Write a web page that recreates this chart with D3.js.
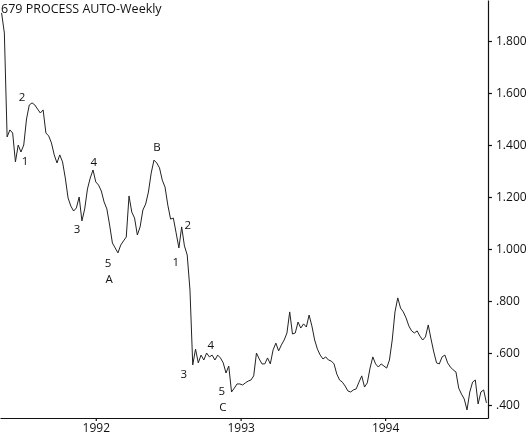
<!DOCTYPE html>
<html>
<head>
<meta charset="utf-8">
<script src="https://cdn.jsdelivr.net/npm/d3@7"></script>
<style>
  body { margin: 0; background: #fff; }
  svg { will-change: transform; }
  svg text { font-family: "Open Sans", sans-serif; fill: #111; }
</style>
</head>
<body>
<div id="chart"></div>
<script>
let title = "679 PROCESS AUTO-Weekly";

// first weekly close, one value per week after that
let startDate = "1991-05-08";

let closes = [
  1.908, 1.831, 1.431, 1.458, 1.446, 1.335, 1.400, 1.373, 1.400, 1.500,
  1.554, 1.562, 1.554, 1.538, 1.523, 1.535, 1.446, 1.435, 1.408, 1.362,
  1.331, 1.362, 1.335, 1.273, 1.196, 1.165, 1.146, 1.158, 1.200, 1.108,
  1.154, 1.231, 1.273, 1.304, 1.258, 1.246, 1.223, 1.181, 1.154, 1.092,
  1.023, 1.004, 0.985, 1.015, 1.031, 1.046, 1.204, 1.142, 1.119, 1.054,
  1.085, 1.150, 1.173, 1.219, 1.292, 1.342, 1.331, 1.312, 1.265, 1.238,
  1.169, 1.115, 1.119, 1.062, 1.004, 1.085, 1.012, 0.977, 0.842, 0.554,
  0.615, 0.562, 0.592, 0.573, 0.600, 0.585, 0.592, 0.573, 0.592, 0.581,
  0.562, 0.523, 0.550, 0.450, 0.465, 0.481, 0.481, 0.477, 0.485, 0.492,
  0.496, 0.512, 0.600, 0.577, 0.558, 0.558, 0.581, 0.558, 0.612, 0.638,
  0.608, 0.631, 0.650, 0.677, 0.758, 0.673, 0.677, 0.719, 0.696, 0.712,
  0.700, 0.746, 0.704, 0.650, 0.615, 0.592, 0.577, 0.585, 0.573, 0.569,
  0.558, 0.519, 0.496, 0.488, 0.473, 0.454, 0.450, 0.458, 0.462, 0.488,
  0.512, 0.469, 0.485, 0.542, 0.585, 0.558, 0.546, 0.558, 0.550, 0.542,
  0.573, 0.650, 0.758, 0.812, 0.773, 0.758, 0.735, 0.704, 0.685, 0.677,
  0.685, 0.665, 0.650, 0.662, 0.708, 0.654, 0.604, 0.562, 0.558, 0.585,
  0.592, 0.562, 0.546, 0.535, 0.527, 0.465, 0.442, 0.423, 0.381, 0.450,
  0.488, 0.496, 0.404, 0.450, 0.458, 0.408
];

let yTicks = [0.4, 0.6, 0.8, 1.0, 1.2, 1.4, 1.6, 1.8];

// elliott wave counts: label, week index, price level
let waveLabels = ["2", "1", "4", "3", "5", "A", "B", "2", "1", "3", "4", "5", "C"];
let waveWeeks  = [7.4, 8.5, 33.3, 27.2, 38.4, 38.8, 56.1, 67.2, 62.9, 65.8, 75.5, 79.5, 79.9];
let waveLevels = [1.585, 1.338, 1.335, 1.077, 0.946, 0.885, 1.392, 1.092, 0.950, 0.519, 0.631, 0.454, 0.392];

let width = 529, height = 435;
let margin = { top: 0, right: 41, bottom: 17, left: 0 };

let parse = d3.timeParse("%Y-%m-%d");
let start = parse(startDate);
let weekDate = w => d3.timeHour.offset(start, Math.round(w * 7 * 24));

let data = closes.map((v, i) => ({ date: weekDate(i), value: v }));

let svg = d3.select("#chart").append("svg")
    .attr("width", width)
    .attr("height", height);

let xScale = d3.scaleTime()
    .domain([parse("1991-05-04"), parse("1994-09-18")])
    .range([margin.left, width - margin.right]);

let yScale = d3.scaleLinear()
    .domain([0.35, 1.9577])
    .range([height - margin.bottom, margin.top]);

let fmt = d3.format(".3f");

let xAxis = d3.axisBottom(xScale)
    .ticks(d3.timeYear.every(1))
    .tickFormat(d3.timeFormat("%Y"))
    .tickSize(3)
    .tickPadding(2)
    .tickSizeOuter(0);

let yAxis = d3.axisRight(yScale)
    .tickValues(yTicks)
    .tickFormat(d => fmt(d).replace(/^0/, ""))
    .tickSize(4)
    .tickPadding(4)
    .tickSizeOuter(0);

svg.append("g")
    .attr("class", "x-axis")
    .attr("transform", `translate(0,${height - margin.bottom})`)
    .call(xAxis);

svg.append("g")
    .attr("class", "y-axis")
    .attr("transform", `translate(${width - margin.right},0)`)
    .call(yAxis);

svg.selectAll(".x-axis, .y-axis").selectAll("path, line")
    .attr("stroke", "#111")
    .attr("stroke-width", 1.2);

svg.selectAll(".x-axis text, .y-axis text")
    .attr("font-size", 12)
    .style("font-family", "'Open Sans', sans-serif");

let line = d3.line()
    .x(d => xScale(d.date))
    .y(d => yScale(d.value));

svg.append("path")
    .datum(data)
    .attr("fill", "none")
    .attr("stroke", "#222")
    .attr("stroke-width", 1)
    .attr("stroke-linejoin", "round")
    .attr("d", line);

svg.selectAll(".wave")
    .data(waveLabels)
    .enter()
    .append("text")
    .attr("class", "wave")
    .attr("x", (d, i) => xScale(weekDate(waveWeeks[i])))
    .attr("y", (d, i) => yScale(waveLevels[i]))
    .attr("dy", "0.35em")
    .attr("text-anchor", "middle")
    .attr("font-size", 11.5)
    .text(d => d);

svg.append("text")
    .attr("x", 1)
    .attr("y", 13)
    .attr("font-size", 12.5)
    .text(title);
</script>
</body>
</html>
